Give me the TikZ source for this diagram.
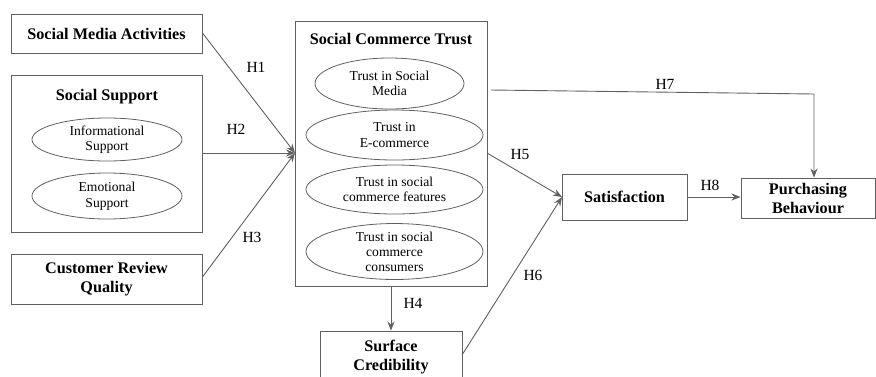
\documentclass[tikz,border=0pt]{standalone}
\usepackage{fontspec}
\setmainfont{Liberation Serif}
\usetikzlibrary{arrows.meta,shapes.geometric}
\definecolor{ln}{HTML}{606060}
\tikzset{
  box/.style={draw=ln, line width=0.9pt, rectangle, inner sep=0pt},
  oval/.style={draw=ln, line width=0.8pt, ellipse, inner sep=0pt, align=center, font=\fontsize{13.6}{15.5}\selectfont},
  ttl/.style={font=\bfseries\fontsize{16.2}{19}\selectfont, align=center, inner sep=0pt},
  hl/.style={font=\fontsize{15.5}{17}\selectfont, inner sep=0pt},
  arr/.style={draw=ln, line width=0.9pt, -{Stealth[length=9pt,width=7pt]}},
}
\begin{document}
\begin{tikzpicture}[x=1pt,y=-1pt]
\useasboundingbox (0,0) rectangle (876,376);
\begin{scope}
\clip (0,0) rectangle (876,376);
% left boxes
\node[box, minimum width=191, minimum height=39] (sma) at (106.5,33.5) {};
\node[ttl] at (sma) {Social Media Activities};
\node[box, minimum width=191, minimum height=157] (ss) at (106.5,153.5) {};
\node[ttl] (sst) at (107,97) {Social Support};
\node[oval, minimum width=150, minimum height=43] (inf) at (107,139.5) {Informational\\Support};
\node[oval, minimum width=150, minimum height=46] (emo) at (107,196) {Emotional\\Support};
\node[box, minimum width=191, minimum height=50] (crq) at (106.5,279) {};
\node[ttl] at (crq) {Customer Review\\Quality};
% central
\node[box, minimum width=192, minimum height=265] (sct) at (391,153.5) {};
\node[ttl] (sctt) at (391,39) {Social Commerce Trust};
\node[oval, minimum width=149, minimum height=51] (t1) at (389.5,83.5) {Trust in Social\\Media};
\node[oval, minimum width=177, minimum height=50] (t2) at (394.5,135) {Trust in\\E-commerce};
\node[oval, minimum width=177, minimum height=49] (t3) at (394.5,189.5) {Trust in social\\commerce features};
\node[oval, minimum width=177, minimum height=51, font=\fontsize{13.6}{15}\selectfont] (t4) at (394.5,251.5) {Trust in social\\commerce\\consumers};
% bottom
\node[box, minimum width=142, minimum height=60] (sc) at (391,361) {};
\node[ttl] at (391,357.5) {Surface\\Credibility};
% right
\node[box, minimum width=125, minimum height=46] (sat) at (624.5,197) {};
\node[ttl] at (sat) {Satisfaction};
\node[box, minimum width=134, minimum height=40] (pb) at (808,198) {};
\node[ttl] at (pb) {Purchasing\\Behaviour};
% coordinates
\coordinate (tgt) at (295,153);
\coordinate (satin) at (562,197);
\coordinate (h7s) at (491,90);
\coordinate (h7c) at (814,94);
\coordinate (h5s) at (487,153);
\coordinate (h6s) at (462,355);
% arrows
\draw[arr] (sma.north east |- 0,33) -- (tgt);
\draw[arr] (ss.east |- 0,153) -- (tgt);
\draw[arr] (crq.east |- 0,277) -- (tgt);
\draw[arr] (sct.south) -- (sc.north);
\draw[arr] (h5s) -- (satin);
\draw[arr] (h6s) -- (satin);
\draw[arr] (sat.east) -- (pb.west |- sat.east);
\draw[arr] (h7s) -- (h7c) -- (h7c |- pb.north);
% labels
\node[hl] at (256,67) {H1};
\node[hl] at (236,129) {H2};
\node[hl] at (252,237) {H3};
\node[hl] at (413,303) {H4};
\node[hl] at (520,154) {H5};
\node[hl] at (533,275) {H6};
\node[hl] at (665,84) {H7};
\node[hl] at (710,185) {H8};
\end{scope}
\end{tikzpicture}
\end{document}
